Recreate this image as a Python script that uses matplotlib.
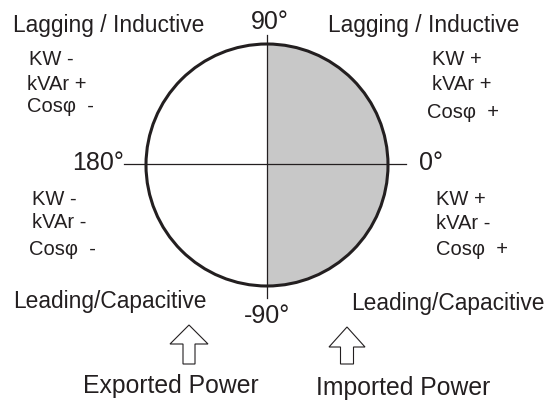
import matplotlib.pyplot as plt
from matplotlib.patches import Circle, Wedge, Polygon

plt.rcParams["font.family"] = ["Liberation Sans", "DejaVu Sans"]

# quadrant labels: upper-left, upper-right, lower-left, lower-right
quadrants = ["UL", "UR", "LL", "LR"]
kw_signs = ["-", "+", "-", "+"]
kvar_signs = ["+", "+", "-", "-"]
cos_signs = ["-", "+", "-", "+"]
modes = ["Lagging / Inductive", "Lagging / Inductive",
         "Leading/Capacitive", "Leading/Capacitive"]
angle_labels = ["90°", "180°", "0°", "-90°"]
power_labels = ["Exported Power", "Imported Power"]

ink = "#231f20"

fig = plt.figure(figsize=(5.48, 4.03), dpi=100)
ax = fig.add_axes([0, 0, 1, 1])
ax.set_xlim(0, 548)
ax.set_ylim(403, 0)
ax.axis("off")

# circle, right half shaded
cx, cy, r = 267, 165, 121
ax.add_patch(Wedge((cx, cy), r, -90, 90, facecolor="#c8c8c8", edgecolor="none"))
ax.add_patch(Circle((cx, cy), r, facecolor="none", edgecolor=ink, lw=2.2))
ax.plot([124, 406], [163.5, 163.5], color=ink, lw=0.9)
ax.plot([266.5, 266.5], [35, 298], color=ink, lw=0.9)

# angle labels
ax.text(270, 29, angle_labels[0], fontsize=18, ha="center", va="baseline", color=ink)
ax.text(124, 170, angle_labels[1], fontsize=18, ha="right", va="baseline", color=ink)
ax.text(419, 170, angle_labels[2], fontsize=18, ha="left", va="baseline", color=ink)
ax.text(267, 323, angle_labels[3], fontsize=18, ha="center", va="baseline", color=ink)

# quadrant text blocks
mode_pos = {"UL": (13, 32), "UR": (328, 32), "LL": (13, 308), "LR": (351, 310)}
sign_pos = {
    "UL": [(29, 65), (27, 90), (27, 112)],
    "UR": [(432, 65), (432, 90), (427, 118)],
    "LL": [(32, 205), (32, 228), (29, 255)],
    "LR": [(436, 205), (436, 229), (436, 255)],
}
for q, mode, kw, kvar, cs in zip(quadrants, modes, kw_signs, kvar_signs, cos_signs):
    ax.text(*mode_pos[q], mode, fontsize=16.4, ha="left", va="baseline", color=ink)
    lines = ["KW " + kw, "kVAr " + kvar, "Cosφ  " + cs]
    for (x, y), s in zip(sign_pos[q], lines):
        ax.text(x, y, s, fontsize=14.5, ha="left", va="baseline", color=ink)

# arrows
def up_arrow(xc, tip, base, bottom, hw, sw):
    pts = [(xc, tip), (xc + hw, base), (xc + sw, base), (xc + sw, bottom),
           (xc - sw, bottom), (xc - sw, base), (xc - hw, base)]
    ax.add_patch(Polygon(pts, closed=True, facecolor="white", edgecolor=ink, lw=0.8))

up_arrow(189, 325, 344, 364, 19, 6)
up_arrow(347, 327, 347, 364, 18, 6.5)

ax.text(171, 393, power_labels[0], fontsize=17.8, ha="center", va="baseline", color=ink)
ax.text(403, 395, power_labels[1], fontsize=17.8, ha="center", va="baseline", color=ink)

fig.savefig("out.png", dpi=100)
